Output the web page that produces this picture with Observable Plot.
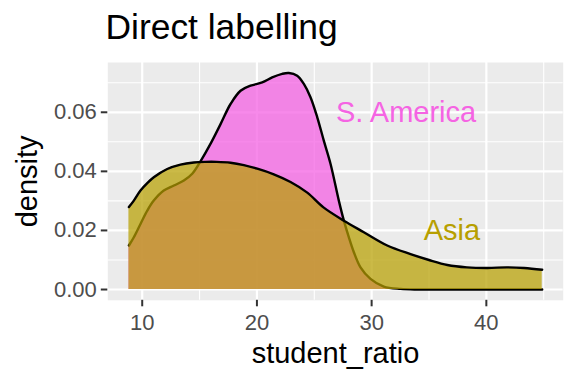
<!DOCTYPE html>
<html>
<head>
<meta charset="utf-8">
<script src="https://cdn.jsdelivr.net/npm/d3@7"></script>
<script src="https://cdn.jsdelivr.net/npm/@observablehq/plot@0.6"></script>
<style>
  html, body { margin: 0; padding: 0; background: #ffffff; }
  #wrap { position: relative; width: 576px; height: 384px; overflow: hidden; font-family: "Liberation Sans", Arial, sans-serif; }
  #title { position: absolute; left: 105.5px; top: 0; height: 50px; line-height: 55px; font-size: 35.4px; color: #000; white-space: nowrap; }
  #chart { position: absolute; left: 0; top: 50px; }
</style>
</head>
<body>
<div id="wrap">
  <div id="title">Direct labelling</div>
  <div id="chart"></div>
</div>
<script>
// ---- data ----
const asiaX = [8.84, 9.27, 9.85, 10.44, 11.01, 12.18, 13.34, 14.5, 15.5, 16.5, 17.7, 18.86, 20.03, 21.47, 22.93, 24.39, 25.8, 27.58, 29.32, 31.36, 33.39, 35.0, 36.6, 38.3, 40.1, 41.8, 43.3, 44.87];
const asiaY = [0.0279, 0.0301, 0.0335, 0.0360, 0.0380, 0.0408, 0.0423, 0.0430, 0.0432, 0.0432, 0.0429, 0.0421, 0.0409, 0.0390, 0.0364, 0.0328, 0.0278, 0.0233, 0.0194, 0.0149, 0.0120, 0.0100, 0.0083, 0.0075, 0.0073, 0.0075, 0.0073, 0.0067];

const saX = [8.84, 9.27, 9.85, 10.44, 11.01, 11.88, 12.76, 13.63, 14.36, 15.08, 15.95, 16.83, 17.7, 18.57, 19.44, 20.46, 21.33, 22.2, 22.78, 23.51, 24.09, 24.67, 25.26, 25.83, 26.42, 27.14, 27.58, 28.01, 28.45, 29.03, 29.9, 31.06, 32.52, 34, 36, 40, 44.87];
const saY = [0.0149, 0.0177, 0.0222, 0.0267, 0.0301, 0.0335, 0.0352, 0.0369, 0.0392, 0.0434, 0.0493, 0.0560, 0.0628, 0.0673, 0.0690, 0.0701, 0.0718, 0.0730, 0.0733, 0.0724, 0.0696, 0.0651, 0.0583, 0.0504, 0.0425, 0.0301, 0.0233, 0.0177, 0.0126, 0.0075, 0.0036, 0.0010, 0.0002, 0.0, 0.0, 0.0, 0.0];

const labelNames = ["S. America", "Asia"];
const labelX = [33, 37];
const labelY = [0.06, 0.02];
const labelColors = ["#F564E3", "#B79F00"];

const xTicks = [10, 20, 30, 40];
const xMinor = [15, 25, 35, 45];
const yTicks = [0, 0.02, 0.04, 0.06];
const yMinor = [0.01, 0.03, 0.05, 0.07];

// ---- tables for the library ----
const asia = asiaX.map((x, i) => ({x, y: asiaY[i]}));
const sa = saX.map((x, i) => ({x, y: saY[i]}));
const labels = labelNames.map((name, i) => ({name, x: labelX[i], y: labelY[i], color: labelColors[i]}));

const font = "Liberation Sans, Arial, sans-serif";

const chart = Plot.plot({
  width: 576,
  height: 334,
  marginTop: 12,
  marginBottom: 84.2,
  marginLeft: 107.3,
  marginRight: 13.3,
  style: {fontFamily: font, background: "transparent", overflow: "visible"},
  x: {domain: [7.0, 46.7]},
  y: {domain: [-0.00365, 0.07685]},
  marks: [
    Plot.frame({fill: "#EBEBEB", stroke: null}),
    Plot.ruleX(xMinor, {stroke: "#ffffff", strokeWidth: 1.1}),
    Plot.ruleY(yMinor, {stroke: "#ffffff", strokeWidth: 1.1}),
    Plot.ruleX(xTicks, {stroke: "#ffffff", strokeWidth: 2.2}),
    Plot.ruleY(yTicks, {stroke: "#ffffff", strokeWidth: 2.2}),
    Plot.areaY(sa, {x: "x", y: "y", fill: "#F564E3", fillOpacity: 0.76, curve: "catmull-rom"}),
    Plot.lineY(sa, {x: "x", y: "y", stroke: "#000000", strokeWidth: 2.4, curve: "catmull-rom"}),
    Plot.areaY(asia, {x: "x", y: "y", fill: "#B79F00", fillOpacity: 0.72, curve: "catmull-rom"}),
    Plot.lineY(asia, {x: "x", y: "y", stroke: "#000000", strokeWidth: 2.4, curve: "catmull-rom"}),
    Plot.text(labels, {x: "x", y: "y", text: "name", fill: "color", fontSize: 29, textAnchor: "middle", lineAnchor: "middle"}),
    Plot.axisX(xTicks, {tickSize: 6.5, tickPadding: 8, fontSize: 22, color: "#4D4D4D", stroke: "#333333", strokeWidth: 2, label: null}),
    Plot.axisY(yTicks, {tickSize: 6.5, tickPadding: 4.5, fontSize: 22, color: "#4D4D4D", stroke: "#333333", strokeWidth: 2, label: null, tickFormat: d => d.toFixed(2)}),
    Plot.text(["student_ratio"], {frameAnchor: "bottom", dy: 62.2, text: d => d, fontSize: 29, fill: "#000000", lineAnchor: "bottom", textAnchor: "middle"}),
    Plot.text(["density"], {frameAnchor: "left", dx: -70.8, text: d => d, fontSize: 29, fill: "#000000", rotate: -90, lineAnchor: "bottom", textAnchor: "middle"})
  ]
});
document.getElementById("chart").appendChild(chart);
</script>
</body>
</html>
